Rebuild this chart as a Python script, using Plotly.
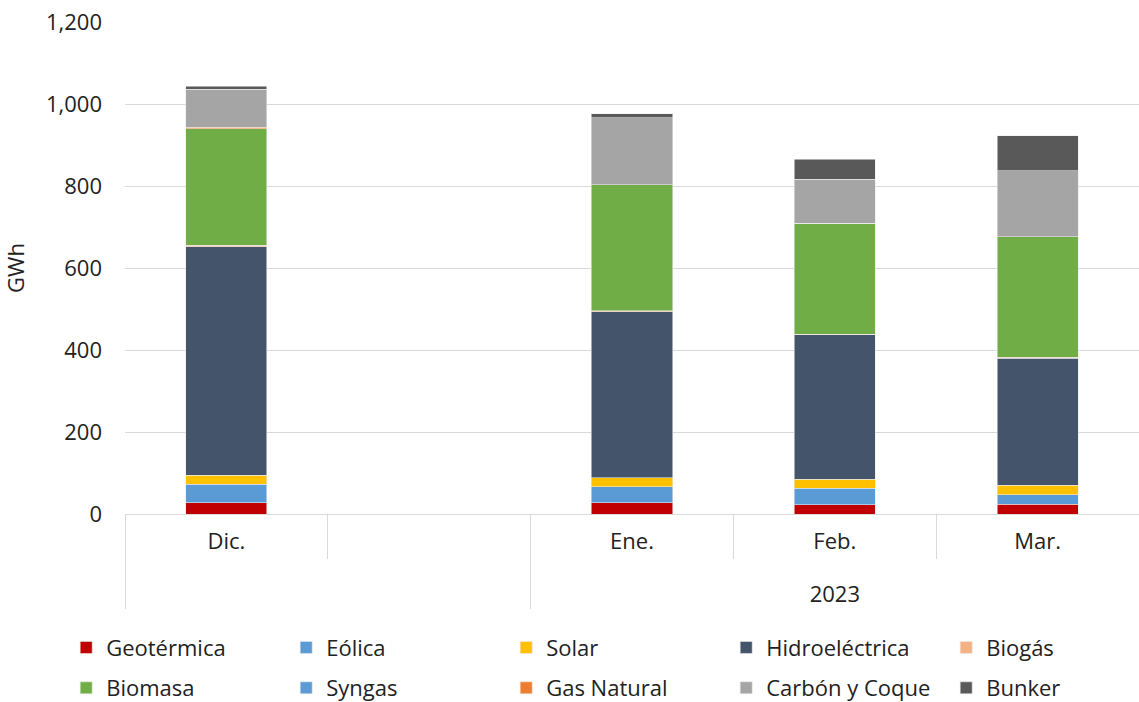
import plotly.graph_objects as go

# categorías del eje x (dos niveles)
years = [" ", " ", "<br>2023", "<br>2023", "<br>2023"]
months = ["Dic.", "  ", "Ene.", "Feb.", "Mar."]

geotermica = [27, None, 27, 22, 24]
eolica = [46, None, 40, 41, 23]
solar = [22, None, 22, 22, 23]
hidro = [557, None, 404, 352, 310]
biogas = [3, None, 3, 2, 2]
biomasa = [285, None, 307, 270, 294]
syngas = [0, None, 0, 0, 0]
gas_natural = [3, None, 0, 0, 0]
carbon = [93, None, 164, 108, 161]
bunker = [7, None, 9, 48, 86]

series = [
    ("Geotérmica", geotermica, "#C00000"),
    ("Eólica", eolica, "#5B9BD5"),
    ("Solar", solar, "#FFC000"),
    ("Hidroeléctrica", hidro, "#44546A"),
    ("Biogás", biogas, "#F4B183"),
    ("Biomasa", biomasa, "#70AD47"),
    ("Syngas", syngas, "#5B9BD5"),
    ("Gas Natural", gas_natural, "#ED7D31"),
    ("Carbón y Coque", carbon, "#A5A5A5"),
    ("Bunker", bunker, "#595959"),
]

fig = go.Figure()
for i, (name, vals, color) in enumerate(series):
    fig.add_trace(go.Bar(
        x=[years, months], y=vals, name=name,
        legend="legend" if i < 5 else "legend2",
        marker=dict(color=color, line=dict(color="rgba(235,235,235,0.8)", width=0.7)),
    ))

leg = dict(
    orientation="h", traceorder="normal",
    x=-0.058, xanchor="left", yanchor="top",
    entrywidth=175, font=dict(size=22, color="#222222"),
    bgcolor="rgba(0,0,0,0)",
)

fig.update_layout(
    barmode="stack",
    bargap=0.6,
    width=1139,
    height=702,
    margin=dict(l=125, r=0, t=22, b=188, autoexpand=False),
    plot_bgcolor="white",
    paper_bgcolor="white",
    font=dict(family="Open Sans", size=22, color="#222222"),
    legend=dict(leg, y=-0.229),
    legend2=dict(leg, y=-0.311),
)
fig.update_yaxes(
    range=[0, 1200], dtick=200, tickformat=",",
    gridcolor="#D9D9D9", gridwidth=1, zeroline=False,
    title=dict(text="GWh", standoff=17, font=dict(size=22)),
    tickfont=dict(size=22), ticks="", showline=False,
    ticklabelstandoff=22, ticklabeloverflow="allow", automargin=False,
)
fig.update_xaxes(
    showline=True, linecolor="#D9D9D9",
    showdividers=True, dividercolor="#D9D9D9", dividerwidth=1,
    ticks="outside", tickson="boundaries", ticklen=44, tickcolor="#D9D9D9",
    tickfont=dict(size=22), automargin=False, ticklabelstandoff=8,
)

# sin el margen de 8 px que pone el navegador al body
fig.write_html("out.html", config={"displayModeBar": False},
               post_script="document.body.style.margin='0px';")
